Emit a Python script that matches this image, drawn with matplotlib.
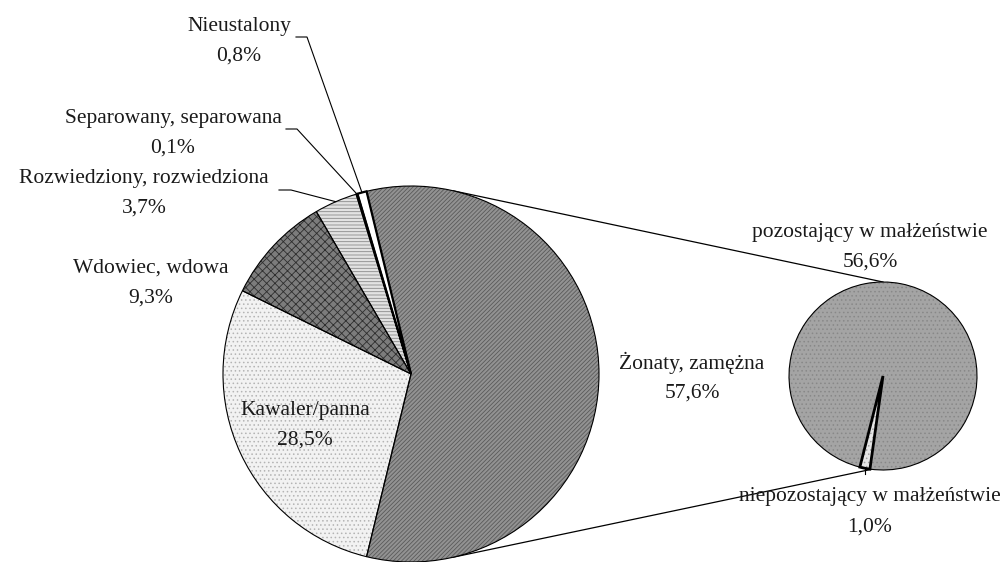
import numpy as np
import matplotlib
matplotlib.use('Agg')
import matplotlib.pyplot as plt

plt.rcParams['font.family'] = ['Liberation Serif', 'DejaVu Serif']
plt.rcParams['hatch.linewidth'] = 0.6

# main pie: marital status
labels = ['Żonaty, zamężna', 'Kawaler/panna', 'Wdowiec, wdowa',
          'Rozwiedziony, rozwiedziona', 'Separowany, separowana', 'Nieustalony']
values = [57.6, 28.5, 9.3, 3.7, 0.1, 0.8]
pct_text = ['57,6%', '28,5%', '9,3%', '3,7%', '0,1%', '0,8%']

# secondary pie: split of "Żonaty, zamężna"
sub_labels = ['niepozostający w małżeństwie', 'pozostający w małżeństwie']
sub_values = [1.0, 56.6]
sub_pct = ['1,0%', '56,6%']

face = ['#929292', '#f2f2f2', '#7c7c7c', '#e2e2e2', '#000000', '#ffffff']
hatch_col = ['#5a5a5a', '#b4b4b4', '#2e2e2e', '#8a8a8a', '#000000', '#ffffff']
hatches = ['////////', '....', 'xxxx', '-----', None, None]
sub_face = ['#e6e6e6', '#a4a4a4']
sub_hatch_col = ['#a0a0a0', '#888888']
sub_hatches = ['....', '....']

H = 562
c1, r1 = (411, H - 374), 188
c2, r2 = (883, H - 376), 94

fig = plt.figure(figsize=(10.05, 5.62), dpi=100)
ax = fig.add_axes([0, 0, 1, 1])

half = values[0] / 100 * 360 / 2
start1 = half          # split slice centred on the right side
start2 = 90 - 188

def draw_pie(vals, center, radius, start, faces, hcols, hts, lw_list):
    w, _ = ax.pie(vals, center=center, radius=radius, startangle=start,
                  counterclock=False, wedgeprops=dict(linewidth=0))
    for i, p in enumerate(w):
        p.set_facecolor(faces[i])
        p.set_edgecolor(hcols[i])
        if hts[i]:
            p.set_hatch(hts[i])
        p.set_zorder(2)
    w2, _ = ax.pie(vals, center=center, radius=radius, startangle=start,
                   counterclock=False, wedgeprops=dict(facecolor='none', edgecolor='black'))
    for i, p in enumerate(w2):
        p.set_linewidth(lw_list[i])
        p.set_zorder(3)
    return w

w1 = draw_pie(values, c1, r1, start1, face, hatch_col, hatches, [0.8, 0.8, 0.8, 0.8, 1.2, 1.6])
w2 = draw_pie(sub_values, c2, r2, start2, sub_face, sub_hatch_col, sub_hatches, [2.0, 0.8])

def on_circle(center, radius, clock_deg):
    a = np.radians(clock_deg)
    return center[0] + radius * np.sin(a), center[1] + radius * np.cos(a)

# connector lines between the pies
p_top = on_circle(c1, r1, 13)
p_bot = on_circle(c1, r1, 167)
q_top = on_circle(c2, r2, 0)
q_bot = on_circle(c2, r2, 187)
ax.plot([p_top[0], q_top[0]], [p_top[1], q_top[1]], color='black', lw=0.9, zorder=1)
ax.plot([p_bot[0], q_bot[0]], [p_bot[1], q_bot[1]], color='black', lw=0.9, zorder=1)

fs = 15.5
def label(x, y, name, pct):
    ax.text(x, H - y, name, ha='center', va='center', fontsize=fs, color='#1a1a1a')
    ax.text(x, H - y - 30, pct, ha='center', va='center', fontsize=fs, color='#1a1a1a')

# label positions (pixel, top line centre)
label(239, 26, labels[5], pct_text[5])
label(173, 118, labels[4], pct_text[4])
label(144, 178, labels[3], pct_text[3])
label(151, 268, labels[2], pct_text[2])
label(305, 410, labels[1], pct_text[1])
label(692, 363, labels[0], pct_text[0])
label(870, 232, sub_labels[1], sub_pct[1])
label(870, 497, sub_labels[0], sub_pct[0])

# leader lines for the thin slices
cum = np.cumsum([0] + values)
def mid_clock(i):
    return 90 - half + (cum[i] + cum[i + 1]) / 2 / 100 * 360

leaders = [(5, (296, 37), (307, 37)), (4, (286, 129), (297, 129)), (3, (279, 190), (291, 190))]
for i, a, b in leaders:
    e = on_circle(c1, r1, mid_clock(i))
    ax.plot([a[0], b[0], e[0]], [H - a[1], H - b[1], e[1]], color='black', lw=0.8, zorder=4)

s = on_circle(c2, r2, 188 + sub_values[0] / sum(sub_values) * 360 / 2)
ax.plot([s[0], s[0]], [s[1], s[1] - 6], color='black', lw=0.8, zorder=4)

ax.set_xlim(0, 1005)
ax.set_ylim(0, H)
ax.set_aspect('equal')
ax.axis('off')

plt.savefig('out.png', dpi=100)
